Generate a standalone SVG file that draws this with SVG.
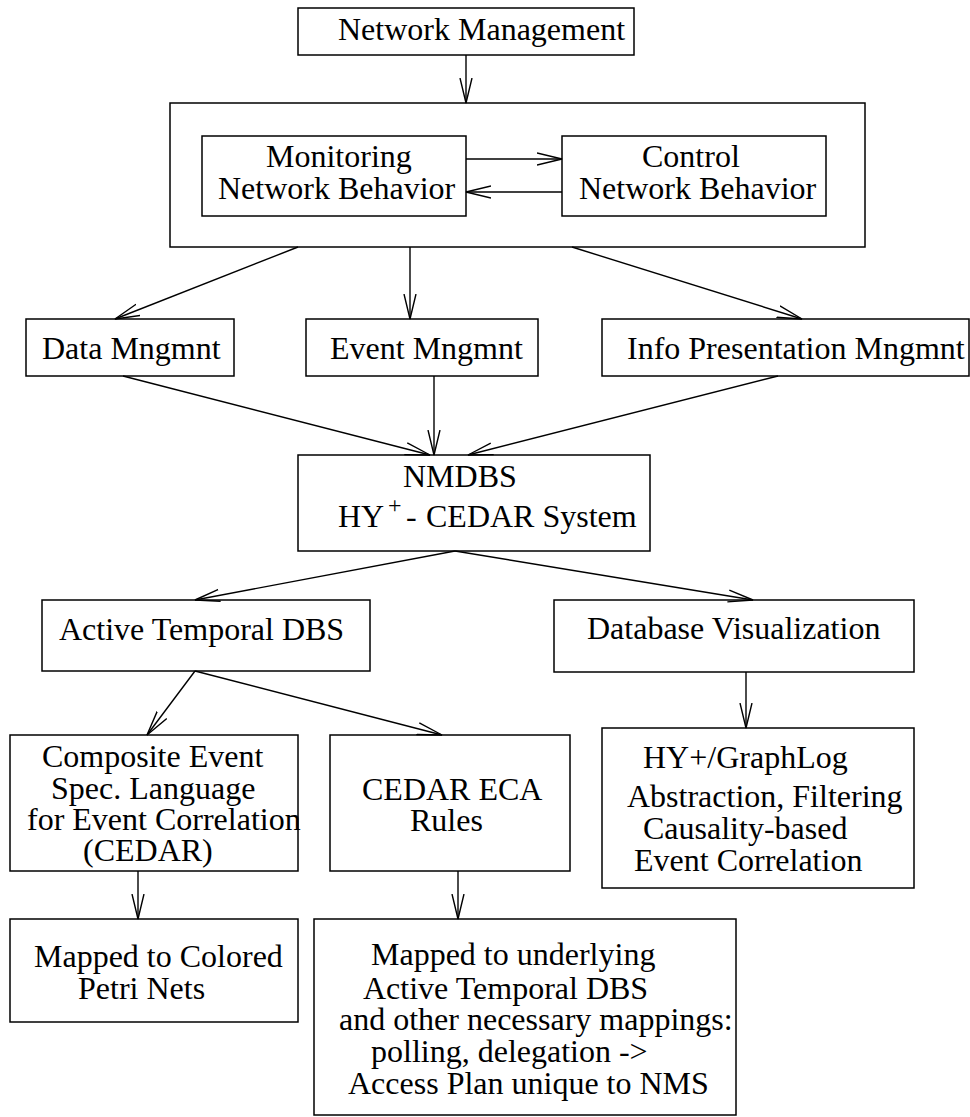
<svg xmlns="http://www.w3.org/2000/svg" width="970" height="1117" viewBox="0 0 970 1117">
<style>
.box{fill:none;stroke:#000;stroke-width:1.5}
text{font-family:'Liberation Serif','Times New Roman',Times,serif;font-size:32px;fill:#000}
.c{fill:none;stroke:#000;stroke-width:1.4;marker-end:url(#ah)}
</style>
<defs>
<marker id="ah" markerUnits="userSpaceOnUse" markerWidth="30" markerHeight="16" refX="25" refY="7" orient="auto">
<path d="M0,1 L25,7 L0,13" fill="none" stroke="#000" stroke-width="1.4"/>
</marker>
</defs>
<rect width="970" height="1117" fill="#fff"/>
<g font-family="Liberation Serif, Times New Roman, serif">
<g id="nm"><rect class="box" x="298" y="8" width="336" height="47"/><text x="338" y="40">Network Management</text></g>
<g id="outer"><rect class="box" x="170" y="103" width="695" height="144"/></g>
<g id="monitor"><rect class="box" x="202" y="136" width="264" height="80"/><text x="266" y="167">Monitoring</text><text x="218" y="199">Network Behavior</text></g>
<g id="control"><rect class="box" x="562" y="136" width="264" height="80"/><text x="642" y="167">Control</text><text x="579" y="199">Network Behavior</text></g>
<g id="data"><rect class="box" x="26" y="319" width="208" height="57"/><text x="42" y="359">Data Mngmnt</text></g>
<g id="event"><rect class="box" x="306" y="319" width="232" height="57"/><text x="330" y="359">Event Mngmnt</text></g>
<g id="info"><rect class="box" x="602" y="319" width="367" height="57"/><text x="627" y="359">Info Presentation Mngmnt</text></g>
<g id="nmdbs"><rect class="box" x="298" y="455" width="352" height="96"/><text x="403" y="487">NMDBS</text>
<text y="527"><tspan x="338">HY</tspan><tspan x="388" y="513" font-size="24">+</tspan><tspan x="406" y="527">-</tspan><tspan x="426" y="527">CEDAR System</tspan></text></g>
<g id="atdbs"><rect class="box" x="42" y="600" width="328" height="71"/><text x="59" y="640">Active Temporal DBS</text></g>
<g id="dbvis"><rect class="box" x="554" y="600" width="360" height="72"/><text x="587" y="639">Database Visualization</text></g>
<g id="hy"><rect class="box" x="602" y="728" width="312" height="160"/>
<text x="643" y="768">HY+/GraphLog</text><text x="627" y="807">Abstraction, Filtering</text><text x="643" y="839">Causality-based</text><text x="634" y="871">Event Correlation</text></g>
<g id="composite"><rect class="box" x="10" y="735" width="288" height="136"/>
<text x="42" y="767">Composite Event</text><text x="51" y="799">Spec. Language</text><text x="27" y="830">for Event Correlation</text><text x="83" y="861">(CEDAR)</text></g>
<g id="eca"><rect class="box" x="330" y="735" width="240" height="136"/><text x="362" y="800">CEDAR ECA</text><text x="410" y="831">Rules</text></g>
<g id="petri"><rect class="box" x="10" y="919" width="288" height="103"/><text x="34" y="967">Mapped to Colored</text><text x="78" y="999">Petri Nets</text></g>
<g id="mapped"><rect class="box" x="314" y="919" width="422" height="196"/>
<text x="371" y="965">Mapped to underlying</text><text x="363" y="999">Active Temporal DBS</text><text x="339" y="1030">and other necessary mappings:</text><text x="371" y="1062">polling, delegation -&gt;</text><text x="348" y="1094">Access Plan unique to NMS</text></g>
</g>
<g id="connectors">
<line class="c" x1="466" y1="55" x2="466" y2="103"/>
<line class="c" x1="466" y1="159" x2="562" y2="159"/>
<line class="c" x1="562" y1="192" x2="466" y2="192"/>
<line class="c" x1="298" y1="247" x2="115" y2="319"/>
<line class="c" x1="410" y1="247" x2="410" y2="319"/>
<line class="c" x1="572" y1="247" x2="802" y2="319"/>
<line class="c" x1="123" y1="376" x2="430" y2="455"/>
<line class="c" x1="434" y1="376" x2="434" y2="455"/>
<line class="c" x1="778" y1="376" x2="468" y2="455"/>
<line class="c" x1="455" y1="551" x2="195" y2="600"/>
<line class="c" x1="455" y1="551" x2="753" y2="600"/>
<line class="c" x1="746" y1="672" x2="746" y2="728"/>
<line class="c" x1="195" y1="671" x2="147" y2="735"/>
<line class="c" x1="195" y1="671" x2="442" y2="735"/>
<line class="c" x1="138" y1="871" x2="138" y2="919"/>
<line class="c" x1="458" y1="871" x2="458" y2="919"/>
</g>
</svg>
